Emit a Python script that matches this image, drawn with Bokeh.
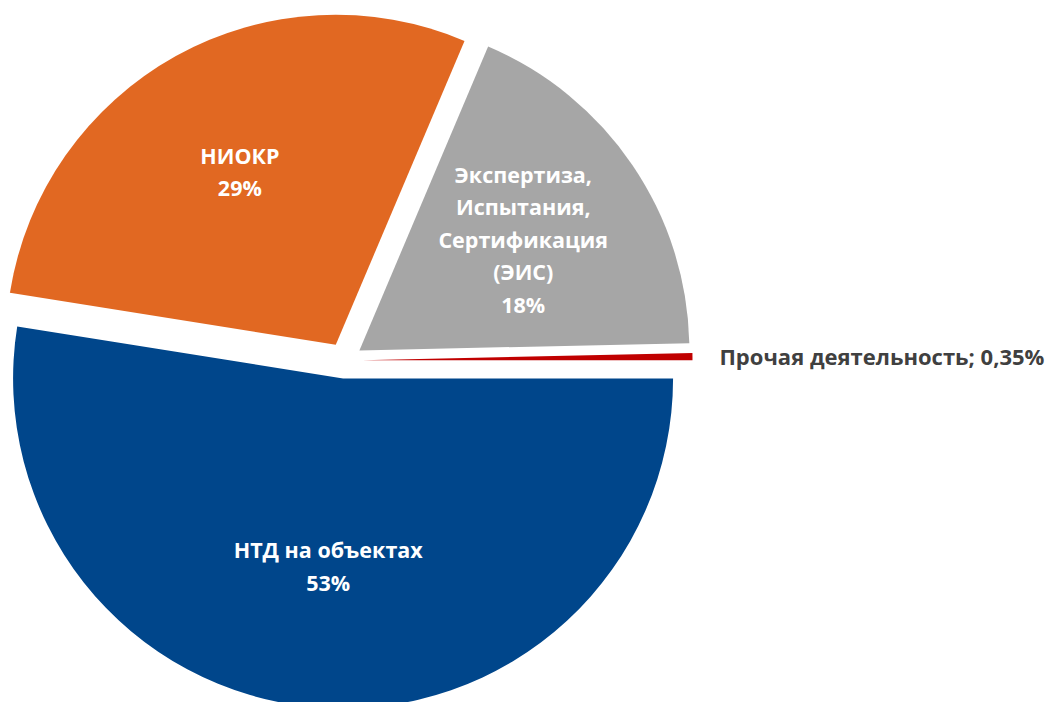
import math
from bokeh.plotting import figure
from bokeh.models import Range1d
from bokeh.core.properties import value
from bokeh.embed import file_html
from bokeh.resources import INLINE

# ---- data ----
categories = ["НТД на объектах", "НИОКР", "Экспертиза,\nИспытания,\nСертификация\n(ЭИС)", "Прочая деятельность"]
shares = [52.6, 28.9, 18.3, 0.35]
colors = ["#00468B", "#E16822", "#A6A6A6", "#C00000"]

# ---- layout ----
W, H = 1047, 702
CX, CY = 344, 342
R = 330
EXPLODE = 18
FONT = "Open Sans"
label_frac = [0.57, 0.6, 0.6]

p = figure(width=W, height=H, output_backend="svg", toolbar_location=None,
           x_range=Range1d(0, W), y_range=Range1d(0, H), min_border=0)
p.axis.visible = False
p.grid.visible = False
p.outline_line_color = None
p.background_fill_color = "white"
p.border_fill_color = "white"

total = sum(shares)
cum = 0.0
for i, (cat, v, col) in enumerate(zip(categories, shares, colors)):
    a_start = -cum / total * 2 * math.pi
    cum += v
    a_end = -cum / total * 2 * math.pi
    mid = (a_start + a_end) / 2
    ox = CX + EXPLODE * math.cos(mid)
    oy = CY + EXPLODE * math.sin(mid)
    p.wedge(x=[ox], y=[oy], radius=R, start_angle=[a_end], end_angle=[a_start],
            direction="anticlock", fill_color=col, line_color=None)
    if i < 3:
        pct = f"{round(v)}%"
        lx = ox + label_frac[i] * R * math.cos(mid)
        ly = oy + label_frac[i] * R * math.sin(mid)
        p.text(x=[lx], y=[ly], text=[cat + "\n" + pct], text_align="center",
               text_baseline="middle", text_color="white", text_font=value(FONT),
               text_font_style="bold", text_font_size="21.5px", text_line_height=1.12)
    else:
        pct = f"{v:.2f}".replace(".", ",") + "%"
        lx = ox + (R + 27) * math.cos(mid)
        ly = oy + (R + 27) * math.sin(mid)
        p.text(x=[lx], y=[ly], text=[cat + "; " + pct], text_align="left",
               text_baseline="middle", text_color="#404040", text_font=value(FONT),
               text_font_style="bold", text_font_size="22px")

open("out.html", "w").write(file_html(p, INLINE))
